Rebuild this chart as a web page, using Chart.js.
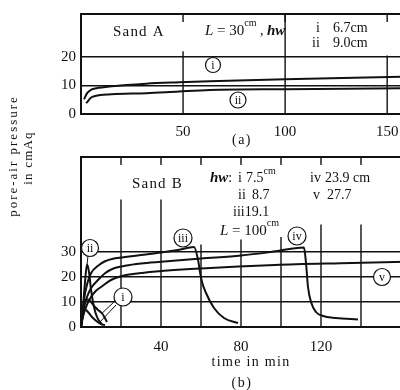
<!DOCTYPE html>
<html>
<head>
<meta charset="utf-8">
<title>pore-air pressure</title>
<script src="https://cdn.jsdelivr.net/npm/chart.js@4.4.1/dist/chart.umd.min.js"></script>
<style>
  html, body { margin: 0; padding: 0; background: #fff; overflow: hidden; width: 400px; height: 390px; }
  canvas { position: absolute; left: 0; top: 0; }
</style>
</head>
<body>
<canvas id="chartA" width="440" height="390"></canvas>
<canvas id="chartB" width="440" height="390"></canvas>
<script>
// (a) Sand A, L = 30 cm  -- time in min, pressure in cmAq
var timeA_i = [1.5, 3, 5, 7.5, 15, 32, 48, 63, 100, 157, 170];
var pressA_i = [5.1, 7.3, 8.5, 9.0, 9.7, 10.6, 11.1, 11.5, 12.2, 13.0, 13.2];
var timeA_ii = [2.5, 5.5, 15, 32, 48, 63, 100, 157, 170];
var pressA_ii = [3.8, 6.0, 6.9, 7.3, 7.9, 8.4, 8.7, 9.0, 9.1];

// (b) Sand B, L = 100 cm
var timeB_i = [0, 1, 2, 3.5, 5, 7, 9, 10.5, 12, 13];
var pressB_i = [0, 6, 10, 11, 10, 8, 6.5, 5.5, 3.5, 2];
var timeB_i2 = [0, 1, 2, 3.5, 5.5, 7.5, 9, 10.5, 12];
var pressB_i2 = [0, 5, 7, 6, 4, 2.5, 1.6, 1, 0.8];
var timeB_ii = [0, 1, 2, 3, 4, 5, 6.5, 8, 9.5, 10.5];
var pressB_ii = [0, 8, 18, 25, 22, 15, 8, 4, 2, 1.2];
var timeB_iii = [0, 0.7, 1.5, 3, 5, 8.5, 12, 16.5, 22, 30, 40, 48.5, 56.5, 58.5, 59.5, 60.5, 62.5, 66.5, 71.5, 78.5];
var pressB_iii = [0, 5, 11, 17, 21.5, 24.5, 26.3, 27.4, 28, 28.8, 29.8, 30.8, 32, 27, 22, 18, 13.6, 7.6, 3.6, 1.6];
var timeB_iv = [0, 0.7, 1.5, 3, 5, 8.5, 12, 16.5, 22, 30, 40, 60, 80, 95, 111.5, 112.5, 113.5, 115, 117.5, 121, 127.5, 138.5];
var pressB_iv = [0, 4, 8, 12, 15.5, 18.8, 21.5, 23.5, 24.5, 25.4, 26.1, 27.4, 28.6, 30, 31.8, 25.6, 16, 10, 6, 4.4, 3.6, 3.0];
var timeB_v = [0, 0.7, 1.5, 3, 5, 7.5, 10, 15, 20, 27, 37.5, 60, 97, 130, 170];
var pressB_v = [0, 3, 5.6, 9, 12, 14.5, 16, 18.8, 20.3, 21.3, 22.2, 23.4, 24.8, 25.5, 26.2];

// tick labels
var xLabelsA = [50, 100, 150];
var yLabelsA = [0, 10, 20];
var xLabelsB = [40, 80, 120];
var yLabelsB = [0, 10, 20, 30];

var INK = '#111';
var SERIF = '"Liberation Serif", "DejaVu Serif", serif';

function pts(t, p) {
  return t.map(function (v, i) { return { x: v, y: p[i] }; });
}

function curve(t, p) {
  return {
    data: pts(t, p),
    borderColor: INK,
    borderWidth: 2,
    pointRadius: 0,
    fill: false,
    cubicInterpolationMode: 'monotone'
  };
}

function txt(ctx, s, x, y, size, opt) {
  opt = opt || {};
  ctx.font = (opt.style || '') + ' ' + size + 'px ' + SERIF;
  ctx.letterSpacing = (opt.spacing || 0) + 'px';
  ctx.textAlign = opt.align || 'left';
  ctx.textBaseline = 'alphabetic';
  ctx.fillStyle = INK;
  ctx.fillText(s, x, y);
  var w = ctx.measureText(s).width;
  ctx.letterSpacing = '0px';
  return w;
}

// draws a sequence of runs [text, size, style, dy] starting at x
function runs(ctx, list, x, y) {
  list.forEach(function (r) {
    x += txt(ctx, r[0], x, y + (r[3] || 0), r[1], { style: r[2] });
  });
}

function circled(ctx, s, x, y, r) {
  ctx.beginPath();
  ctx.arc(x, y, r, 0, Math.PI * 2);
  ctx.fillStyle = '#fff';
  ctx.fill();
  ctx.lineWidth = 1.2;
  ctx.strokeStyle = INK;
  ctx.stroke();
  ctx.font = '12px ' + SERIF;
  ctx.textAlign = 'center';
  ctx.textBaseline = 'middle';
  ctx.fillStyle = INK;
  ctx.fillText(s, x, y + 0.5);
}

function line(ctx, x1, y1, x2, y2, w) {
  ctx.beginPath();
  ctx.moveTo(x1, y1);
  ctx.lineTo(x2, y2);
  ctx.lineWidth = w || 1;
  ctx.strokeStyle = INK;
  ctx.stroke();
}

// vertical grid lines: [value, top value] plus a stub under the top border
function vGrid(chart, lines) {
  var ctx = chart.ctx, a = chart.chartArea, xs = chart.scales.x, ys = chart.scales.y;
  ctx.save();
  lines.forEach(function (g) {
    var x = xs.getPixelForValue(g[0]);
    line(ctx, x, a.bottom, x, ys.getPixelForValue(g[1]), 1.4);
    line(ctx, x, a.top, x, a.top + 8, 1.4);
  });
  ctx.restore();
}

function frame(chart) {
  var ctx = chart.ctx, a = chart.chartArea;
  ctx.save();
  ctx.lineWidth = 2;
  ctx.strokeStyle = INK;
  ctx.strokeRect(a.left, a.top, a.right - a.left, a.bottom - a.top);
  ctx.restore();
}

function options(xMax, yMax, xStep, xLabels, yLabels, yWidth, xHeight, pad, labelPad) {
  return {
    responsive: false,
    animation: false,
    events: [],
    layout: { padding: pad },
    plugins: { legend: { display: false }, tooltip: { enabled: false } },
    scales: {
      x: {
        type: 'linear', min: 0, max: xMax,
        border: { display: false },
        grid: { display: false },
        ticks: {
          stepSize: xStep, autoSkip: false, maxRotation: 0, padding: labelPad,
          color: INK, font: { family: SERIF, size: 15 },
          callback: function (v) { return xLabels.indexOf(v) >= 0 ? String(v) : ''; }
        },
        afterFit: function (s) { s.height = xHeight; }
      },
      y: {
        type: 'linear', min: 0, max: yMax,
        border: { display: false },
        grid: {
          drawTicks: false, lineWidth: 1.4,
          color: function (c) { return (c.tick && c.tick.value > 0 && yLabels.indexOf(c.tick.value) >= 0) ? INK : 'rgba(0,0,0,0)'; }
        },
        ticks: {
          stepSize: 10, padding: 5, color: INK, font: { family: SERIF, size: 15 },
          callback: function (v) { return yLabels.indexOf(v) >= 0 ? String(v) : ''; }
        },
        afterFit: function (s) { s.width = yWidth; }
      }
    }
  };
}

// ---------- panel (a) ----------
var panelA = {
  id: 'panelA',
  beforeDatasetsDraw: function (chart) {
    vGrid(chart, [[50, 22], [100, 35], [150, 20.5]]);
  },
  afterDraw: function (chart) {
    var ctx = chart.ctx;
    frame(chart);
    ctx.save();
    txt(ctx, 'Sand A', 113, 36, 15, { spacing: 1.2 });
    runs(ctx, [['L', 15, 'italic'], [' = 30', 15, ''], ['cm', 10, '', -9], [' , ', 14, ''], ['hw', 15, 'italic bold']], 205, 35);
    txt(ctx, 'i', 316, 32, 14);
    txt(ctx, '6.7cm', 333, 32, 14);
    txt(ctx, 'ii', 312, 47, 14);
    txt(ctx, '9.0cm', 333, 47, 14);
    circled(ctx, 'i', 213, 65, 7.5);
    circled(ctx, 'ii', 238, 100, 8);
    txt(ctx, '(a)', 242, 144, 14, { align: 'center', spacing: 1.5 });
    ctx.restore();
  }
};

new Chart(document.getElementById('chartA'), {
  type: 'line',
  data: { datasets: [curve(timeA_i, pressA_i), curve(timeA_ii, pressA_ii)] },
  options: options(170, 35, 50, xLabelsA, yLabelsA, 81, 36, { top: 8, bottom: 240, left: 0, right: 12 }, 1),
  plugins: [panelA]
});

// ---------- panel (b) ----------
var panelB = {
  id: 'panelB',
  beforeDatasetsDraw: function (chart) {
    vGrid(chart, [[20, 51], [40, 51], [60, 33], [80, 35], [100, 36], [120, 41], [140, 41], [160, 41]]);
  },
  afterDraw: function (chart) {
    var ctx = chart.ctx, xs = chart.scales.x, ys = chart.scales.y;
    frame(chart);
    ctx.save();
    txt(ctx, 'Sand B', 132, 188, 15, { spacing: 1.2 });
    runs(ctx, [['hw', 15, 'italic bold'], [':', 14, '']], 210, 182);
    txt(ctx, 'i', 238, 182, 14);
    runs(ctx, [['7.5', 14, ''], ['cm', 10, '', -8]], 246, 182);
    txt(ctx, 'ii', 238, 199, 14);
    txt(ctx, '8.7', 252, 199, 14);
    txt(ctx, 'iii19.1', 233, 216, 14);
    runs(ctx, [['L', 15, 'italic'], [' = 100', 15, ''], ['cm', 10, '', -9]], 220, 235);
    txt(ctx, 'iv', 310, 182, 14);
    txt(ctx, '23.9 cm', 325, 182, 14);
    txt(ctx, 'v', 313, 199, 14);
    txt(ctx, '27.7', 327, 199, 14);

    // leader lines to the short runs
    line(ctx, 88, 256, xs.getPixelForValue(3), ys.getPixelForValue(25), 1);
    line(ctx, 115, 301, xs.getPixelForValue(10.5), ys.getPixelForValue(5.5), 1);
    line(ctx, 116, 305, xs.getPixelForValue(9), ys.getPixelForValue(1.6), 1);

    circled(ctx, 'ii', 90, 248, 8.5);
    circled(ctx, 'iii', 183, 238, 9);
    circled(ctx, 'iv', 297, 236, 9);
    circled(ctx, 'i', 123, 297, 9);
    circled(ctx, 'v', 382, 277, 8.5);

    txt(ctx, 'time in min', 251, 366, 14, { align: 'center', spacing: 1.3 });
    txt(ctx, '(b)', 242, 387, 14, { align: 'center', spacing: 1.5 });

    // shared y-axis title
    ctx.save();
    ctx.translate(17, 156);
    ctx.rotate(-Math.PI / 2);
    txt(ctx, 'pore-air pressure', 0, 0, 13, { align: 'center', spacing: 2 });
    ctx.restore();
    ctx.save();
    ctx.translate(32, 158);
    ctx.rotate(-Math.PI / 2);
    txt(ctx, 'in cmAq', 0, 0, 13, { align: 'center', spacing: 1.2 });
    ctx.restore();
    ctx.restore();
  }
};

new Chart(document.getElementById('chartB'), {
  type: 'line',
  data: {
    datasets: [
      curve(timeB_i, pressB_i), curve(timeB_i2, pressB_i2), curve(timeB_ii, pressB_ii),
      curve(timeB_iii, pressB_iii), curve(timeB_iv, pressB_iv), curve(timeB_v, pressB_v)
    ]
  },
  options: options(170, 68, 20, xLabelsB, yLabelsB, 81, 63, { top: 157, bottom: 0, left: 0, right: 19 }, 3),
  plugins: [panelB]
});
</script>
</body>
</html>
